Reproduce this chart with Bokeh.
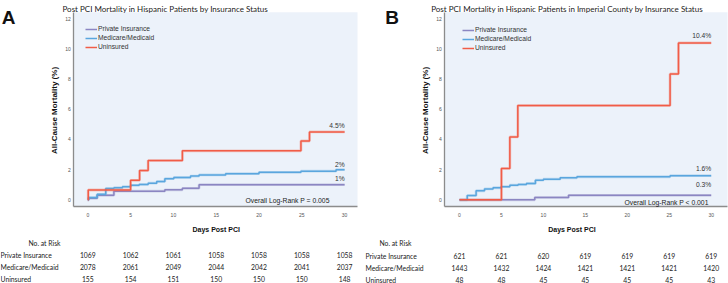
import math
from bokeh.plotting import figure
from bokeh.layouts import row
from bokeh.models import Label, Legend, LegendItem, Range1d, FixedTicker, LinearAxis, BoxAnnotation
from bokeh.embed import file_html
from bokeh.resources import INLINE

# ---------------- data ----------------
groups = ["Private Insurance", "Medicare/Medicaid", "Uninsured"]
day_ticks = [0, 5, 10, 15, 20, 25, 30]
pct_ticks = [0, 2, 4, 6, 8, 10, 12]

# Panel A: all Hispanic patients (step change days, cumulative mortality %)
a_private_days = [0, 0.1, 1.1, 3.05, 9.0, 11.05, 13.0, 30]
a_private_pct = [0, 0.1, 0.3, 0.57, 0.66, 0.76, 1.0, 1.0]
a_medicare_days = [0, 0.1, 1.1, 2.1, 3.05, 4.05, 5.0, 6.0, 7.05, 8.05, 9.0, 10.05, 12.0, 13.0, 16.1, 20.0, 24.9, 29.0, 30]
a_medicare_pct = [0, 0.15, 0.36, 0.75, 0.8, 0.87, 0.96, 1.02, 1.1, 1.21, 1.4, 1.48, 1.57, 1.65, 1.73, 1.82, 1.9, 2.0, 2.0]
a_uninsured_days = [0, 0.05, 5.0, 6.05, 7.05, 11.05, 24.9, 25.9, 30]
a_uninsured_pct = [0, 0.65, 1.29, 1.94, 2.6, 3.25, 3.9, 4.5, 4.5]
a_risk_private = [1069, 1062, 1061, 1058, 1058, 1058, 1058]
a_risk_medicare = [2078, 2061, 2049, 2044, 2042, 2041, 2037]
a_risk_uninsured = [155, 154, 151, 150, 150, 150, 148]

# Panel B: Imperial County
b_private_days = [0, 8.97, 13.0, 30]
b_private_pct = [0, 0.16, 0.3, 0.3]
b_medicare_days = [0, 0.92, 1.98, 2.98, 4.0, 4.96, 6.0, 6.98, 7.98, 9.05, 10.0, 12.0, 14.0, 25.1, 30]
b_medicare_pct = [0, 0.28, 0.6, 0.72, 0.8, 0.87, 0.97, 1.02, 1.08, 1.3, 1.37, 1.46, 1.53, 1.6, 1.6]
b_uninsured_days = [0, 5.0, 6.0, 6.95, 25.1, 26.1, 30]
b_uninsured_pct = [0, 2.08, 4.17, 6.25, 8.35, 10.4, 10.4]
b_risk_private = [621, 621, 620, 619, 619, 619, 619]
b_risk_medicare = [1443, 1432, 1424, 1421, 1421, 1421, 1420]
b_risk_uninsured = [48, 48, 45, 45, 45, 45, 43]

title_a = "Post PCI Mortality in Hispanic Patients by Insurance Status"
title_b = "Post PCI Mortality in Hispanic Patients in Imperial County by Insurance Status"
p_text_a = "Overall Log-Rank P = 0.005"
p_text_b = "Overall Log-Rank P < 0.001"

# ---------------- styling ----------------
COLORS = ["#8b86c2", "#5aa6de", "#f15c47"]
BG = "#ecf2fa"
SANS = "Liberation Sans"
HUM = "Lato"
W, H = 364, 283
ZERO_Y, PX_PER_PCT = 199.3, 15.08        # canvas row of 0 %, pixels per percent
BOX_TOP, BOX_BOTTOM = 11.7, 205.8         # plotting box on the canvas


def make_panel(letter, title, series, risk, p_text, cfg):
    zero_x, ppd = cfg["zero_x"], cfg["ppd"]

    def dx(cx):   # canvas x -> days
        return (cx - zero_x) / ppd

    def dy(cy):   # canvas y -> percent
        return (ZERO_Y - cy) / PX_PER_PCT

    p = figure(width=W, height=H, output_backend="svg", toolbar_location=None,
               min_border=0, x_axis_location=None, y_axis_location=None,
               x_range=Range1d(dx(0), dx(W)), y_range=Range1d(dy(H), dy(0)),
               background_fill_color="white", border_fill_color="white",
               outline_line_color=None)
    p.grid.visible = False

    box_l, box_r = dx(cfg["box_left"]), dx(cfg["box_right"])
    box_b, box_t = dy(BOX_BOTTOM), dy(BOX_TOP)
    p.add_layout(BoxAnnotation(left=box_l, right=box_r, bottom=box_b, top=box_t,
                               fill_color=BG, fill_alpha=1, line_color=None, level="underlay"))

    xax = LinearAxis(fixed_location=box_b, bounds=(box_l, box_r),
                     ticker=FixedTicker(ticks=day_ticks), major_label_standoff=7)
    yax = LinearAxis(fixed_location=box_l, bounds=(box_b, box_t),
                     ticker=FixedTicker(ticks=pct_ticks), major_label_standoff=3)
    for ax in (xax, yax):
        ax.major_tick_line_color = None
        ax.minor_tick_line_color = None
        ax.major_tick_out = 0
        ax.major_tick_in = 0
        ax.major_label_text_font = SANS
        ax.major_label_text_font_size = "5px"
        ax.major_label_text_color = "#555555"
        ax.axis_line_color = "#8c8c8c"
        ax.axis_line_width = 1.3
    p.add_layout(xax, "below")
    p.add_layout(yax, "left")

    items = []
    for name, (days, pct), color in zip(groups, series, COLORS):
        p.step(days, pct, mode="after", line_color=color, line_width=2.8, line_alpha=0.3)
        r = p.step(days, pct, mode="after", line_color=color, line_width=1.5)
        items.append(LegendItem(label=name, renderers=[r]))

    lx, ly = cfg["legend"]
    leg = Legend(items=items, location=(lx, H - ly), orientation="vertical",
                 label_text_font=SANS, label_text_font_size="6.7px", label_text_color="#333333",
                 glyph_width=12, glyph_height=8, label_height=8, label_standoff=1,
                 spacing=1, padding=0, margin=0,
                 background_fill_alpha=0, border_line_alpha=0)
    p.add_layout(leg)

    def label(cx, cy, text, align="left", size="6.8px", font=HUM, style="normal",
              color="#222222", baseline="middle", angle=0.0, x_data=None):
        p.add_layout(Label(x=dx(cx) if x_data is None else x_data, y=dy(cy), text=text,
                           text_align=align, text_baseline=baseline, angle=angle,
                           text_font=font, text_font_style=style, text_font_size=size,
                           text_color=color))

    # end-of-curve percentages
    for (days, pct), off in zip(series, cfg["end_offsets"]):
        p.add_layout(Label(x=days[-1], y=pct[-1], text=f"{pct[-1]:g}%", y_offset=off,
                           text_align="right", text_baseline="bottom",
                           text_font=SANS, text_font_size="6.7px", text_color="#333333"))

    label(cfg["p_x"], cfg["p_y"], p_text, align="center", size="6.8px", font=SANS)

    # panel letter and title
    label(cfg["letter_x"], 17, letter, align="center", size="19px", font=SANS,
          style="bold", color="#111111", baseline="alphabetic")
    label(cfg["title_x"], 8.6, title, size="8px", baseline="alphabetic")

    # axis titles
    label(cfg["ylab_x"], 110, "All-Cause Mortality (%)", align="center", size="8px",
          font=SANS, style="bold", color="#111111", angle=math.pi / 2)
    label(0, 229, "Days Post PCI", align="center", size="7px", font=SANS, style="bold",
          color="#111111", x_data=cfg["xlab_day"])

    # number-at-risk table
    label(cfg["risk_head_x"], cfg["head_y"], "No. at Risk")
    for name, counts, ry in zip(groups, risk, cfg["rows_y"]):
        label(cfg["row_label_x"], ry, name)
        for d, n in zip(day_ticks, counts):
            label(0, ry, str(n), align="center", x_data=d)
    return p


cfg_a = dict(zero_x=87.3, ppd=8.56, box_left=73.3, box_right=357, legend=(85, 50.5),
             end_offsets=[3, 2, 3], p_x=287, p_y=200,
             letter_x=8, title_x=62, ylab_x=53.5, xlab_day=15,
             risk_head_x=28, head_y=242, row_label_x=0, rows_y=[254, 266, 278.3])
cfg_b = dict(zero_x=459 - 364, ppd=8.39, box_left=444.3 - 364, box_right=363, legend=(462 - 364, 51.5),
             end_offsets=[7.5, 4, 3.5], p_x=666 - 364, p_y=202,
             letter_x=391.5 - 364, title_x=430.7 - 364, ylab_x=425 - 364, xlab_day=13.4,
             risk_head_x=379 - 364, head_y=242.7, row_label_x=1, rows_y=[255, 267.3, 279.3])

pa = make_panel("A", title_a,
                [(a_private_days, a_private_pct), (a_medicare_days, a_medicare_pct),
                 (a_uninsured_days, a_uninsured_pct)],
                [a_risk_private, a_risk_medicare, a_risk_uninsured], p_text_a, cfg_a)
pb = make_panel("B", title_b,
                [(b_private_days, b_private_pct), (b_medicare_days, b_medicare_pct),
                 (b_uninsured_days, b_uninsured_pct)],
                [b_risk_private, b_risk_medicare, b_risk_uninsured], p_text_b, cfg_b)

layout = row(pa, pb, spacing=0)
open("out.html", "w").write(file_html(layout, INLINE))
